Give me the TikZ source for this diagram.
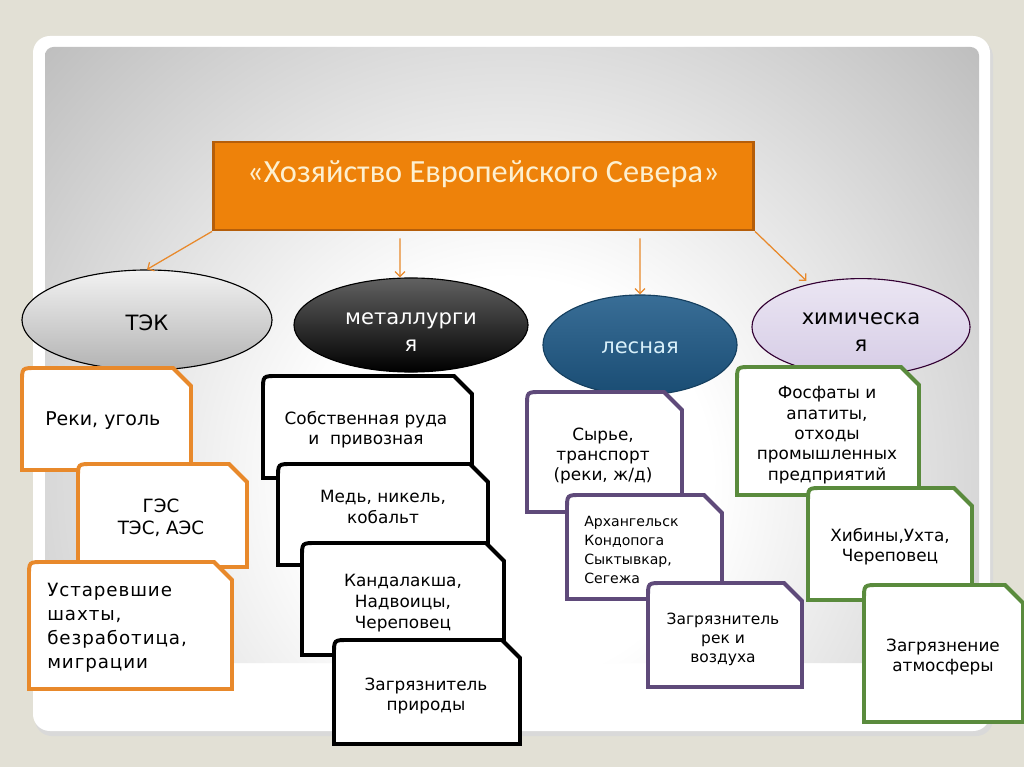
\documentclass[tikz,border=0pt]{standalone}
\usepackage{fontspec}
\setmainfont{DejaVu Sans}
\newfontfamily\headfont{Carlito}
\usetikzlibrary{shapes.geometric,arrows.meta}

\definecolor{pagebg}{HTML}{E2E0D5}
\definecolor{headorange}{HTML}{EE820A}
\definecolor{headedge}{HTML}{B55E0A}
\definecolor{headtext}{HTML}{FDF0D0}
\definecolor{tekline}{HTML}{E8892B}
\definecolor{forestline}{HTML}{5F4A7A}
\definecolor{chemline}{HTML}{5A8B3D}
\definecolor{forestblue}{HTML}{1E5A88}
\definecolor{foresttext}{HTML}{D8F0FA}
\definecolor{lavender}{HTML}{D6CCE6}

\pgfdeclareradialshading{panelglow}{\pgfpoint{0bp}{0bp}}{color(0bp)=(white); color(7bp)=(white); color(32bp)=(black!42); color(50bp)=(black!42)}

\tikzset{cutline/.style={line width=2.8pt, fill=white}}

% box with the top right corner cut off
\newcommand{\cutbox}[5]{%
  \draw[cutline,draw=#1] (#2,#5) -- (#2,#3+14) .. controls (#2,#3) .. (#2+14,#3)
    -- (#4-18,#3) -- (#4,#3+18) -- (#4,#5) -- cycle;}

\begin{document}
\begin{tikzpicture}[x=0.025cm, y=-0.025cm,
  headbox/.style={draw=headedge, line width=2pt, fill=headorange, minimum width=13.5cm, minimum height=2.2cm, inner sep=0pt},
  sector/.style={ellipse, inner sep=0pt, line width=0.8pt},
  sectortext/.style={font=\fontsize{15}{19}\selectfont, align=center, inner sep=0pt},
  arr/.style={draw=tekline, line width=0.9pt, -{Straight Barb[length=3.5pt,width=7pt]}},
  body/.style={font=\fontsize{12}{14.5}\selectfont, align=center, inner sep=0pt}]
\useasboundingbox (0,0) rectangle (1024,767);

% slide
\fill[pagebg] (0,0) rectangle (1024,767);
\fill[black!15, rounded corners=12pt] (35,40) rectangle (993,736);
\fill[white, rounded corners=12pt] (33,36) rectangle (990,731);
\begin{scope}
  \clip[rounded corners=6pt] (45,47) rectangle (979,663);
  \shade[shading=panelglow] (510,480) circle [radius=18cm];
\end{scope}

% title
\node[headbox] (head) at (483.5,186) {};
\node[font=\headfont\fontsize{23}{26}\selectfont, text=headtext] (headtitle) at (483.5,174) {«Хозяйство Европейского Севера»};

% branches
\node[sector, draw=black, top color=gray!10, bottom color=gray!60, minimum width=6.25cm, minimum height=2.5cm] (tek) at (147,320) {};
\node[sectortext] (tektext) at (147,323) {ТЭК};
\node[sector, draw=black, top color=black!62, bottom color=black, minimum width=5.85cm, minimum height=2.35cm] (metal) at (411,325) {};
\node[sectortext, text=white] (metaltext) at (411,332) {металлурги\\я};
\node[sector, draw=forestblue!70!black, top color=forestblue!88!white, bottom color=forestblue!85!black, minimum width=4.85cm, minimum height=2.5cm] (forest) at (640,345) {};
\node[sectortext, text=foresttext] (foresttext) at (640,348) {лесная};
\node[sector, draw=black!60!violet, top color=lavender!50!white, bottom color=lavender, minimum width=5.45cm, minimum height=2.42cm] (chem) at (861,327) {};
\node[sectortext] (chemtext) at (861,332) {химическа\\я};

\draw[arr] (head.south west) -- (tek.north);
\draw[arr] ([xshift=-2.0875cm,yshift=-0.175cm]head.south) -- ([xshift=-0.275cm]metal.north);
\draw[arr] ([xshift=3.9125cm,yshift=-0.175cm]head.south) -- (forest.north);
\draw[arr, shorten >=3pt] (head.south east) -- (chem.140);

% ТЭК
\cutbox{tekline}{22}{368}{191}{470}
\node[body, anchor=west, font=\fontsize{13.5}{16}\selectfont] (tek1) at (45,421) {Реки, уголь};
\cutbox{tekline}{78}{464}{247}{567}
\node[body, font=\fontsize{13}{15.5}\selectfont] (tek2) at (161,518) {ГЭС\\ТЭС, АЭС};
\cutbox{tekline}{29}{562}{232}{689}
\node[body, align=left, anchor=west, font=\fontsize{13}{17}\selectfont\addfontfeature{LetterSpace=5}] (tek3) at (47,628) {Устаревшие\\шахты,\\безработица,\\миграции};

% металлургия
\cutbox{black}{263}{376}{472}{478}
\node[body] (metal1) at (366,430) {Собственная руда\\и~~привозная};
\cutbox{black}{278}{464}{488}{565}
\node[body] (metal2) at (383,507) {Медь, никель,\\кобальт};
\cutbox{black}{302}{543}{504}{655}
\node[body, font=\fontsize{12}{15}\selectfont] (metal3) at (403,603) {Кандалакша,\\Надвоицы,\\Череповец};
\cutbox{black}{334}{640}{520}{744}
\node[body] (metal4) at (426,696) {Загрязнитель\\природы};

% лесная
\cutbox{forestline}{527}{392}{682}{512}
\node[body] (forest1) at (603,456) {Сырье,\\транспорт\\(реки, ж/д)};
\cutbox{forestline}{567}{495}{722}{599}
\node[body, align=left, anchor=west, font=\fontsize{10}{13.5}\selectfont] (forest2) at (584,550) {Архангельск\\Кондопога\\Сыктывкар,\\Сегежа};
\cutbox{forestline}{648}{583}{802}{687}
\node[body, font=\fontsize{11}{13.5}\selectfont] (forest3) at (723,639) {Загрязнитель\\рек и\\воздуха};

% химическая
\cutbox{chemline}{737}{367}{919}{495}
\node[body] (chem1) at (827,435) {Фосфаты и\\апатиты,\\отходы\\промышленных\\предприятий};
\cutbox{chemline}{808}{488}{972}{600}
\node[body] (chem2) at (890,547) {Хибины,Ухта,\\Череповец};
\cutbox{chemline}{864}{585}{1023}{722}
\node[body] (chem3) at (943,657) {Загрязнение\\атмосферы};
\end{tikzpicture}
\end{document}
